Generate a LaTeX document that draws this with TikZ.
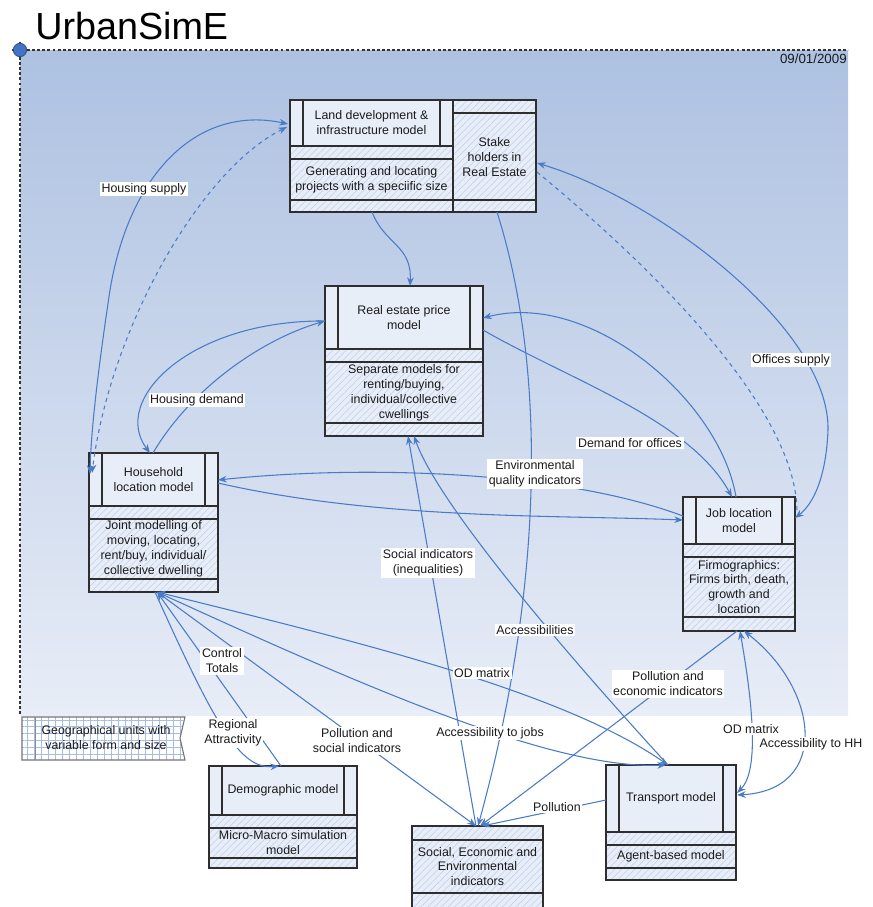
\documentclass[tikz,border=0pt]{standalone}
\usepackage{fontspec}
\setmainfont{Liberation Sans}
\usetikzlibrary{arrows.meta,patterns.meta,fit,calc}
\definecolor{connc}{HTML}{4A7CC6}
\definecolor{linec}{HTML}{2E2E2E}
\definecolor{boxfill}{HTML}{E8EEF8}
\definecolor{hatchc}{HTML}{BFCEEA}
\definecolor{bgtop}{HTML}{ADC1E1}
\definecolor{bgbot}{HTML}{E8EDF7}
\definecolor{txtc}{HTML}{1A1A1A}
\definecolor{gridc}{HTML}{A7BDE6}
\definecolor{dotc}{HTML}{4472C4}
\tikzset{
  conn/.style={draw=connc, line width=0.8pt},
  boxdraw/.style={draw=linec, line width=0.8pt},
  hatch/.style={preaction={fill=boxfill}, pattern={Lines[angle=45,distance=3.6pt,line width=0.4pt]}, pattern color=hatchc},
  btxt/.style={font=\fontsize{9.3}{11.2}\selectfont, align=center, text=txtc, inner sep=0pt},
  lab/.style={fill=white, inner sep=1.2pt, font=\fontsize{9.3}{11.2}\selectfont, align=center, text=txtc},
  boxnode/.style={inner sep=0pt, outer sep=0pt}
}
% #1 name #2 x1 #3 x2 #4 ytop #5 ytitle #6 ytext #7 ybot #8 title #9 body
\newcommand{\modelbox}[9]{%
  \path[hatch] (#2,#5) rectangle (#3,#7);
  \fill[boxfill] (#2,#4) rectangle (#3,#5);
  \draw[boxdraw] (#2,#4) rectangle (#3,#7);
  \draw[boxdraw] (#2,#5) -- (#3,#5);
  \draw[boxdraw] (#2,#5+13) -- (#3,#5+13);
  \draw[boxdraw] (#2,#6) -- (#3,#6);
  \draw[boxdraw] (#2+13,#4) -- (#2+13,#5);
  \draw[boxdraw] (#3-13,#4) -- (#3-13,#5);
  \node[boxnode, fit={(#2,#4) (#3,#7)}] (#1) {};
  \node[btxt] (#1-title) at ($(#2,#4)!0.5!(#3,#5)$) {#8};
  \node[btxt] (#1-body) at ($(#2,#5+13)!0.5!(#3,#6)$) {#9};
}
\begin{document}
\begin{tikzpicture}[x=0.75pt,y=-0.75pt,>={Stealth[length=6.5pt,width=5pt]}]
\useasboundingbox (0,0) rectangle (872,907);
\fill[white] (0,0) rectangle (872,907);
% background panel
\shade[top color=bgtop, bottom color=bgbot] (20,50) rectangle (848,715);
\draw[black!80, line width=0.8pt, dash pattern=on 2.2pt off 1.6pt] (12,50) -- (848,50);
\draw[black!80, line width=0.8pt, dash pattern=on 2.2pt off 1.6pt] (20,42) -- (20,715);
\filldraw[fill=dotc, draw=dotc!70!black, line width=0.6pt] (20,50) circle[radius=5pt];
\node[anchor=base west, inner sep=0pt, font=\fontsize{28.3}{30}\selectfont, text=black] (title) at (35,39.5) {UrbanSimE};
\node[anchor=base east, inner sep=0pt, font=\fontsize{10}{11}\selectfont, text=txtc] (date) at (847,63) {09/01/2009};

% legend
\path[preaction={fill=white}, pattern={Hatch[angle=0,distance=5.2pt,line width=0.4pt]}, pattern color=gridc]
  (22,717) -- (185,717) -- (180,738) -- (185,760) -- (22,760) -- cycle;
\draw[draw=black!55, line width=0.8pt] (22,717) -- (185,717) -- (180,738) -- (185,760) -- (22,760) -- cycle;
\draw[draw=black!45, line width=0.6pt] (35,717) -- (35,760);
\node[btxt] (legend) at (106,738) {Geographical units with\\variable form and size};

% model boxes
\modelbox{L}{290}{453}{100}{146}{200}{212}{Land development \&\\infrastructure model}{Generating and locating\\projects with a speciific size}
\modelbox{R}{325}{483}{286}{349}{423}{436}{Real estate price\\model}{Separate models for\\renting/buying,\\individual/collective\\cwellings}
\modelbox{H}{89}{218}{453}{506}{579}{592}{Household\\location model}{Joint modelling of\\moving, locating,\\rent/buy, individual/\\collective dwelling}
\modelbox{J}{683}{795}{497}{544}{617}{631}{Job location\\model}{Firmographics:\\Firms birth, death,\\growth and\\location}
\modelbox{D}{209}{357}{766}{815}{858}{868}{Demographic model}{Micro-Macro simulation\\model}
\modelbox{T}{606}{736}{765}{832}{868}{880}{Transport model}{Agent-based model}

% stake holders box
\path[hatch] (453,100) rectangle (536,212);
\draw[boxdraw] (453,100) rectangle (536,212);
\draw[boxdraw] (453,113) -- (536,113);
\draw[boxdraw] (453,200) -- (536,200);
\draw[draw=linec, line width=1.5pt] (453,100) -- (453,212);
\node[boxnode, fit={(453,100) (536,212)}] (S) {};
\node[btxt] (S-body) at (494.5,157) {Stake\\holders in\\Real Estate};

% social box
\path[hatch] (412,826) rectangle (543,915);
\draw[boxdraw] (412,826) rectangle (543,915);
\draw[boxdraw] (412,840) -- (543,840);
\draw[boxdraw] (412,893) -- (543,893);
\node[boxnode, fit={(412,826) (543,907)}] (So) {};
\node[btxt] (So-body) at (477.5,866.5) {Social, Economic and\\Environmental\\indicators};

% connectors
% housing supply
\draw[conn,<->] ($(L.north west)+(-2,24)$) .. controls (200,105) and (130,170) .. (110,290) .. controls (98,370) and (91,430) .. ($(H.north west)+(1,21)$);
\draw[conn,dashed,<->] ($(L.north west)+(-3,27)$) .. controls (200,170) and (110,330) .. ($(H.north west)+(3,20)$);
% land -> real estate
\draw[conn,->] ($(L.south west)+(82,0)$) .. controls (385,245) and (412,245) .. ($(R.north west)+(85,0)$);
% offices supply
\draw[conn,<->] ($(S.north east)+(1,63)$) .. controls (660,200) and (830,330) .. (828,430) .. controls (826,480) and (812,505) .. ($(J.north east)+(0,21)$);
\draw[conn,dashed] ($(S.north east)+(1,72)$) .. controls (680,290) and (797,420) .. ($(J.north east)+(2,15)$);
% housing demand
\draw[conn,->] ($(R.north west)+(0,35)$) .. controls (190,320) and (110,400) .. ($(H.north west)+(61,0)$);
\draw[conn,->] ($(H.north west)+(64,0)$) .. controls (190,390) and (260,340) .. ($(R.north west)+(0,35)$);
% demand for offices
\draw[conn,->] ($(J.north west)+(53,0)$) .. controls (720,400) and (590,290) .. ($(R.north east)+(0,32)$);
\draw[conn,->] ($(R.north east)+(0,44)$) .. controls (570,380) and (690,420) .. ($(J.north west)+(49,0)$);
% environmental quality
\draw[conn,->] ($(J.north west)+(0,19)$) .. controls (560,470) and (360,465) .. ($(H.north east)+(0,27)$);
\draw[conn,->] ($(H.north east)+(0,30)$) .. controls (380,520) and (560,515) .. ($(J.north west)+(0,23)$);
% stake holders -> social
\draw[conn,->] ($(S.south west)+(44,0)$) .. controls (550,380) and (540,600) .. ($(So.north west)+(66,0)$);
% social indicators
\draw[conn,->] ($(So.north west)+(64,0)$) -- ($(R.south west)+(83,0)$);
% accessibilities
\draw[conn,->] ($(T.north west)+(62,0)$) .. controls (590,680) and (440,510) .. ($(R.south west)+(89,0)$);
% household bottom hub
\draw[conn,->] ($(D.north west)+(72,0)$) -- ($(H.south west)+(68,0)$);
\draw[conn,->] ($(H.south west)+(66,0)$) .. controls (215,725) and (240,770) .. ($(D.north west)+(70,0)$);
\draw[conn,->] ($(H.south west)+(68,0)$) -- ($(So.north west)+(64,0)$);
\draw[conn,<->] ($(H.south west)+(68,0)$) .. controls (350,640) and (560,690) .. ($(T.north west)+(62,0)$);
\draw[conn,<->] ($(H.south west)+(68,0)$) .. controls (350,680) and (550,770) .. ($(T.north west)+(60,0)$);
% job <-> transport
\draw[conn,<->] ($(J.south west)+(57,0)$) .. controls (752,700) and (760,770) .. ($(T.north east)+(1,28)$);
\draw[conn,<->] ($(J.south west)+(61,0)$) .. controls (820,690) and (830,790) .. ($(T.north east)+(1,30)$);
% pollution lines to social
\draw[conn,->] ($(J.south west)+(54,0)$) -- ($(So.north west)+(68,0)$);
\draw[conn,->] ($(T.north west)+(0,35)$) -- ($(So.north west)+(70,0)$);

% labels
\node[lab] (l-hs) at (144,189) {Housing supply};
\node[lab] (l-os) at (791,360) {Offices supply};
\node[lab] (l-hd) at (197,400) {Housing demand};
\node[lab] (l-dfo) at (630,443) {Demand for offices};
\node[lab] (l-env) at (535,474) {Environmental\\quality indicators};
\node[lab] (l-si) at (428,563) {Social indicators\\(inequalities)};
\node[lab] (l-acc) at (535,630) {Accessibilities};
\node[lab] (l-ct) at (222,661) {Control\\Totals};
\node[lab] (l-od1) at (482,673) {OD matrix};
\node[lab] (l-pee) at (668,684) {Pollution and\\economic indicators};
\node[lab] (l-ra) at (233,733) {Regional\\Attractivity};
\node[lab] (l-psi) at (357,741) {Pollution and\\social indicators};
\node[lab] (l-atj) at (490,733) {Accessibility to jobs};
\node[lab] (l-od2) at (751,729) {OD matrix};
\node[lab] (l-ahh) at (811,744) {Accessibility to HH};
\node[lab] (l-pol) at (557,807) {Pollution};
\end{tikzpicture}
\end{document}
